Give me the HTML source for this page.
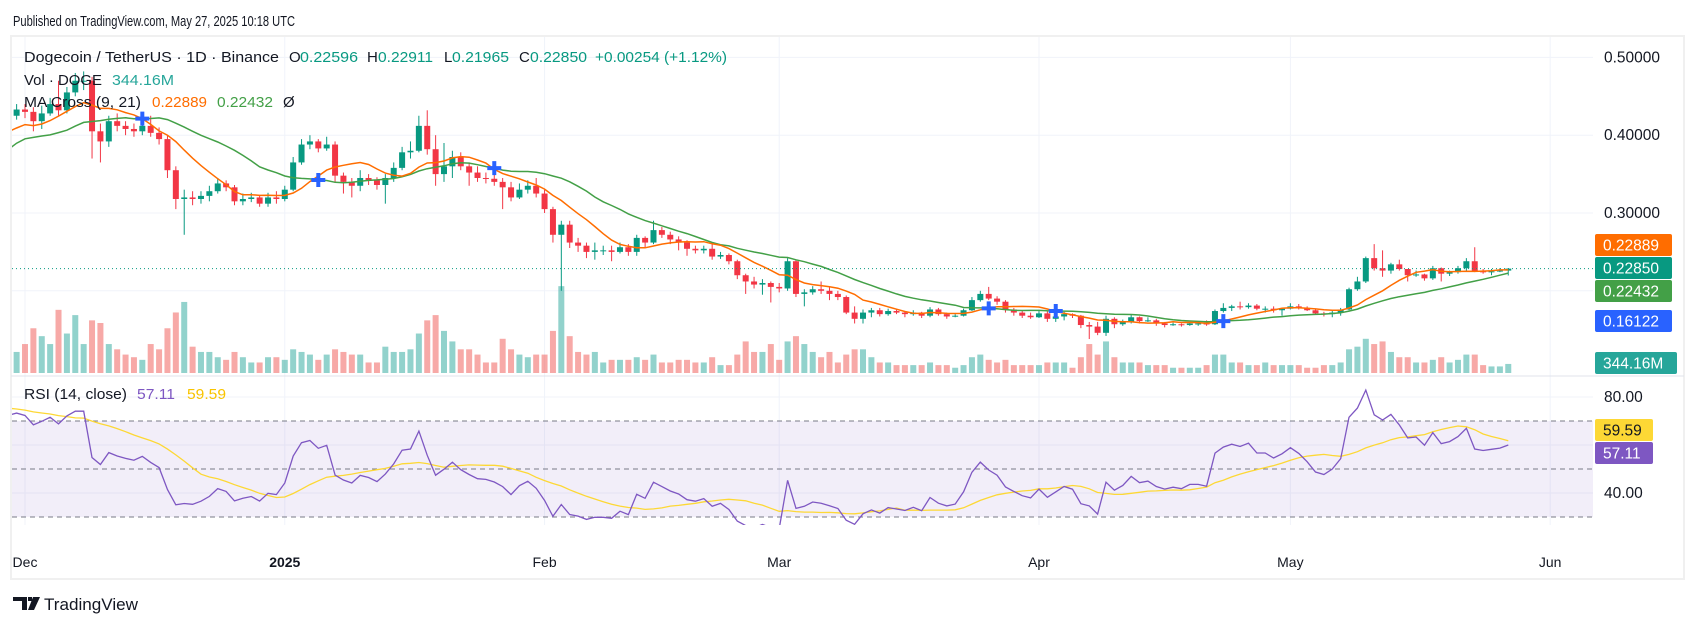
<!DOCTYPE html>
<html><head><meta charset="utf-8"><title>DOGEUSDT chart</title>
<style>
html,body{margin:0;padding:0;background:#fff;}
svg{display:block;font-family:"Liberation Sans",sans-serif;}
</style></head>
<body>
<svg id="chart" width="1696" height="627" viewBox="0 0 1696 627" xmlns="http://www.w3.org/2000/svg">
  <defs>
    <clipPath id="plotClip"><rect x="12" y="37" width="1581" height="488"/></clipPath>
  </defs>
  <text x="13" y="26" font-size="15" fill="#131722" textLength="282" lengthAdjust="spacingAndGlyphs">Published on TradingView.com, May 27, 2025 10:18 UTC</text>
  <rect x="11" y="36" width="1673" height="543" fill="none" stroke="#f0f0f0" stroke-width="2"/>
  <g id="grid"></g>
  <rect x="12" y="421" width="1581" height="96" fill="#7e57c2" fill-opacity="0.1"/>
  <g id="rsiLevels"></g>
  <line x1="11" y1="376" x2="1684" y2="376" stroke="#e0e3eb" stroke-width="1"/>
  <g id="plot" clip-path="url(#plotClip)"></g>
  <g id="axis"></g>
  <g id="timeAxis"></g>

  <g font-size="15">
    <text x="24" y="62" fill="#131722" textLength="255" lengthAdjust="spacingAndGlyphs">Dogecoin / TetherUS · 1D · Binance</text>
    <text x="289" y="62" fill="#131722">O</text>
    <text x="300" y="62" fill="#089981" textLength="58" lengthAdjust="spacingAndGlyphs">0.22596</text>
    <text x="367" y="62" fill="#131722">H</text>
    <text x="378" y="62" fill="#089981" textLength="55" lengthAdjust="spacingAndGlyphs">0.22911</text>
    <text x="444" y="62" fill="#131722">L</text>
    <text x="452" y="62" fill="#089981" textLength="57" lengthAdjust="spacingAndGlyphs">0.21965</text>
    <text x="519" y="62" fill="#131722">C</text>
    <text x="530" y="62" fill="#089981" textLength="57" lengthAdjust="spacingAndGlyphs">0.22850</text>
    <text x="595" y="62" fill="#089981" textLength="132" lengthAdjust="spacingAndGlyphs">+0.00254 (+1.12%)</text>
    <text x="24" y="85" fill="#131722" textLength="78" lengthAdjust="spacingAndGlyphs">Vol · DOGE</text>
    <text x="112" y="85" fill="#26a69a" textLength="62" lengthAdjust="spacingAndGlyphs">344.16M</text>
    <text x="24" y="107" fill="#131722" textLength="117" lengthAdjust="spacingAndGlyphs">MA Cross (9, 21)</text>
    <text x="152" y="107" fill="#ff6d00" textLength="55" lengthAdjust="spacingAndGlyphs">0.22889</text>
    <text x="217" y="107" fill="#43a047" textLength="56" lengthAdjust="spacingAndGlyphs">0.22432</text>
    <text x="283" y="107" fill="#131722">Ø</text>
    <text x="24" y="399" fill="#131722" textLength="103" lengthAdjust="spacingAndGlyphs">RSI (14, close)</text>
    <text x="137" y="399" fill="#7e57c2" textLength="38" lengthAdjust="spacingAndGlyphs">57.11</text>
    <text x="187" y="399" fill="#f9c400" textLength="39" lengthAdjust="spacingAndGlyphs">59.59</text>
  </g>

  <g>
    <path d="M13 597h14v13h-5v-9h-9z M28 597h4v4h-4z M33 597h7l-6 13h-6z" fill="#131722"/>
    <text x="44" y="610" font-size="17" fill="#131722" textLength="94" lengthAdjust="spacingAndGlyphs">TradingView</text>
  </g>
</svg>
<script>
// ---- data ----
const preCloses = [0.165,0.160,0.170,0.170,0.170,0.200,0.210,0.220,0.260,0.310,0.380,0.390,0.410,0.370,0.390,0.360,0.370,0.380,0.370,0.380,0.390,0.390,0.430,0.410,0.400,0.380,0.400,0.415];
const closes = [0.425,0.433,
0.430,0.418,0.428,0.440,0.432,0.455,0.470,0.470,0.405,0.392,0.418,0.412,0.408,0.405,0.412,0.403,0.395,0.355,0.318,0.320,0.318,0.322,0.328,0.338,0.333,0.315,0.318,0.320,0.312,0.320,0.318,
0.330,0.365,0.388,0.392,0.383,0.388,0.348,0.340,0.335,0.345,0.342,0.336,0.345,0.358,0.378,0.380,0.412,0.382,0.350,0.360,0.372,0.360,0.352,0.345,0.344,0.340,0.333,0.320,0.330,0.335,0.325,
0.305,0.272,0.285,0.262,0.258,0.250,0.252,0.252,0.250,0.256,0.250,0.268,0.262,0.278,0.272,0.266,0.262,0.254,0.252,0.254,0.244,0.246,0.238,0.220,0.212,0.208,0.210,0.205,
0.203,0.238,0.196,0.198,0.202,0.200,0.196,0.192,0.172,0.164,0.172,0.175,0.170,0.174,0.172,0.170,0.172,0.168,0.176,0.170,0.167,0.168,0.175,0.188,0.196,0.190,0.186,0.176,0.172,0.168,0.166,
0.171,0.164,0.167,0.170,0.168,0.156,0.154,0.146,0.164,0.157,0.160,0.166,0.161,0.162,0.158,0.156,0.157,0.156,0.158,0.158,0.157,0.174,0.178,0.180,0.179,0.181,0.177,0.177,0.175,0.177,
0.180,0.178,0.175,0.171,0.170,0.172,0.176,0.202,0.212,0.242,0.229,0.226,0.234,0.228,0.220,0.221,0.216,0.229,0.222,0.224,0.229,0.238,0.225,0.224,0.225,0.226,0.2285];
const highs = [0.432,0.440,
0.440,0.436,0.438,0.448,0.470,0.462,0.480,0.482,0.475,0.415,0.425,0.428,0.418,0.415,0.418,0.425,0.410,0.400,0.360,0.330,0.328,0.328,0.335,0.345,0.342,0.336,0.325,0.326,0.322,0.326,0.328,
0.335,0.372,0.395,0.400,0.395,0.398,0.392,0.352,0.345,0.355,0.350,0.346,0.350,0.365,0.385,0.392,0.425,0.432,0.400,0.390,0.380,0.378,0.365,0.360,0.352,0.350,0.345,0.340,0.338,0.342,0.345,
0.330,0.308,0.290,0.290,0.268,0.262,0.262,0.258,0.258,0.262,0.260,0.272,0.270,0.290,0.282,0.276,0.270,0.265,0.258,0.258,0.262,0.250,0.248,0.240,0.222,0.218,0.215,0.212,
0.210,0.242,0.240,0.202,0.206,0.212,0.205,0.200,0.194,0.180,0.176,0.178,0.178,0.177,0.176,0.174,0.175,0.173,0.179,0.178,0.172,0.170,0.177,0.192,0.200,0.205,0.193,0.188,0.178,0.174,0.172,
0.174,0.174,0.170,0.173,0.171,0.169,0.160,0.160,0.168,0.166,0.163,0.169,0.167,0.166,0.164,0.160,0.159,0.158,0.160,0.159,0.162,0.176,0.184,0.182,0.186,0.184,0.183,0.180,0.180,0.178,
0.184,0.183,0.180,0.176,0.173,0.174,0.178,0.204,0.218,0.244,0.260,0.252,0.236,0.240,0.228,0.226,0.222,0.232,0.230,0.226,0.232,0.242,0.256,0.228,0.228,0.229,0.22911];
const lows = [0.410,0.420,
0.422,0.405,0.408,0.425,0.425,0.428,0.450,0.458,0.370,0.365,0.385,0.405,0.400,0.398,0.400,0.398,0.388,0.345,0.305,0.272,0.310,0.312,0.315,0.325,0.328,0.310,0.310,0.314,0.308,0.308,0.312,
0.315,0.328,0.362,0.382,0.378,0.380,0.340,0.325,0.320,0.328,0.336,0.330,0.312,0.340,0.355,0.370,0.378,0.375,0.335,0.340,0.345,0.355,0.335,0.340,0.338,0.335,0.305,0.315,0.318,0.325,0.320,
0.300,0.262,0.200,0.255,0.250,0.242,0.240,0.246,0.238,0.248,0.245,0.245,0.256,0.260,0.268,0.260,0.252,0.245,0.248,0.248,0.240,0.241,0.234,0.215,0.196,0.203,0.195,0.185,
0.198,0.200,0.192,0.180,0.195,0.196,0.188,0.188,0.170,0.158,0.158,0.166,0.167,0.168,0.170,0.166,0.168,0.165,0.166,0.168,0.164,0.166,0.167,0.174,0.186,0.188,0.182,0.172,0.168,0.165,0.164,
0.165,0.160,0.160,0.162,0.165,0.152,0.138,0.143,0.142,0.152,0.155,0.158,0.158,0.160,0.155,0.153,0.155,0.154,0.155,0.155,0.155,0.156,0.172,0.174,0.176,0.177,0.175,0.172,0.172,0.168,
0.176,0.176,0.174,0.170,0.167,0.166,0.168,0.175,0.200,0.210,0.226,0.218,0.222,0.226,0.212,0.218,0.213,0.214,0.212,0.219,0.222,0.226,0.224,0.222,0.220,0.224,0.21965];
const volumes = [900,800,
1100,1700,1400,1100,2400,1500,2200,1100,2000,1900,1100,900,700,600,500,1100,900,1700,2300,2700,1000,800,800,600,500,800,600,400,400,600,600,
500,900,800,700,500,700,900,800,700,700,400,400,1000,800,800,900,1500,2000,2200,1600,1200,900,900,700,400,400,1300,900,700,600,700,
700,1600,3300,1400,800,700,800,400,500,500,500,600,500,700,400,400,500,500,400,400,600,300,300,700,1200,800,800,1100,
500,1200,1400,1100,800,600,800,400,700,900,900,600,400,400,300,300,300,300,400,300,300,200,300,600,700,500,400,500,300,300,300,
300,400,400,400,200,600,1100,700,1200,600,400,400,400,300,300,300,200,200,200,200,300,700,700,400,400,300,300,400,300,300,
300,300,200,200,300,300,400,900,1000,1300,1100,1200,800,600,600,400,400,500,600,400,500,700,700,300,250,250,344.16];
const firstOpen = 0.415;
const lastOpen = 0.22596;
const priceTicks = [0.5,0.4,0.3,0.2];
const priceTickLabels = ["0.50000","0.40000","0.30000",""];
const rsiTicks = [80,60,40];
const rsiTickLabels = ["80.00","","40.00"];
const rsiLevels = [70,50,30];
const monthLabels = ["Dec","2025","Feb","Mar","Apr","May","Jun"];
const monthDayOffsets = [0,31,62,90,121,151,182]; // days from Dec 1

// ---- scales ----
const NS = "http://www.w3.org/2000/svg";
const DAY0 = -2; // first drawn bar = Nov 29
const xOfDay = d => 25 + d * 8.38;
const xOf = i => xOfDay(i + DAY0);
const yP = p => 213 + (0.3 - p) * 778;
const yR = r => 397 + (80 - r) * 2.4;
const yV = v => 373 - v / 38;
function mk(tag, attrs, parent){const e=document.createElementNS(NS,tag);for(const k in attrs)e.setAttribute(k,attrs[k]);parent.appendChild(e);return e;}

const grid = document.getElementById('grid');
const plot = document.getElementById('plot');
const axis = document.getElementById('axis');
const tAxis = document.getElementById('timeAxis');
const rsiLv = document.getElementById('rsiLevels');

// grid
monthDayOffsets.forEach((d,k)=>{
  const x=xOfDay(d);
  if(x<1593){
    const l=mk('line',{x1:x,y1:37,x2:x,y2:525,stroke:'#f0f3fa','stroke-width':1},grid);
    
    
  }
  const t=mk('text',{x:x,y:567,'font-size':14,'text-anchor':'middle',fill:'#131722','font-weight':k===1?'bold':'normal'},tAxis);
  t.textContent=monthLabels[k];
  
  
});
priceTicks.forEach((p,k)=>{
  const y=yP(p);
  const l=mk('line',{x1:12,y1:y,x2:1593,y2:y,stroke:'#f0f3fa','stroke-width':1},grid);
  
  
  if(priceTickLabels[k]){
    const t=mk('text',{x:1604,y:y+5,'font-size':15.5,fill:'#131722'},axis);
    t.textContent=priceTickLabels[k];
    
    
  }
});
rsiTicks.forEach((r,k)=>{
  const y=yR(r);
  const l=mk('line',{x1:12,y1:y,x2:1593,y2:y,stroke:'#f0f3fa','stroke-width':1},grid);
  
  
  if(rsiTickLabels[k]){
    const t=mk('text',{x:1604,y:y+5,'font-size':15.5,fill:'#131722'},axis);
    t.textContent=rsiTickLabels[k];
    
    
  }
});
rsiLevels.forEach(r=>{
  const y=yR(r);
  const l=mk('line',{x1:12,y1:y,x2:1593,y2:y,stroke:'#787b86','stroke-width':1,'stroke-dasharray':'5,4'},rsiLv);
  
  
});

// volume
const opens = closes.map((c,i)=> i===0?firstOpen:(i===closes.length-1?lastOpen:closes[i-1]));
volumes.forEach((v,i)=>{
  const up = closes[i]>=opens[i];
  const y=yV(v);
  const r=mk('rect',{x:xOf(i)-3,y:y,width:6,height:373-y,fill:up?'#26a69a':'#ef5350','fill-opacity':0.5},plot);
  
  
});

// candles
closes.forEach((c,i)=>{
  const o=opens[i], up=c>=o, col=up?'#089981':'#f23645', x=xOf(i);
  const w=mk('line',{x1:x,y1:yP(highs[i]),x2:x,y2:yP(lows[i]),stroke:col,'stroke-width':1},plot);
  
  
  const top=yP(Math.max(o,c)), bot=yP(Math.min(o,c));
  const b=mk('rect',{x:x-3,y:top,width:6,height:Math.max(1,bot-top),fill:col},plot);
  
  
});

// indicators
const all = preCloses.concat(closes);
const P = preCloses.length;
function sma(arr,n,i){let s=0;for(let k=i-n+1;k<=i;k++)s+=arr[k];return s/n;}
const ma9=[], ma21=[];
for(let i=0;i<closes.length;i++){ma9.push(sma(all,9,i+P));ma21.push(sma(all,21,i+P));}
function linePath(vals,yf){return vals.map((v,i)=>(i?'L':'M')+xOf(i).toFixed(1)+' '+yf(v).toFixed(1)).join(' ');}
const p21=mk('path',{d:linePath(ma21,yP),fill:'none',stroke:'#43a047','stroke-width':1.5},plot);


const p9=mk('path',{d:linePath(ma9,yP),fill:'none',stroke:'#ff6d00','stroke-width':1.5},plot);


for(let i=1;i<closes.length;i++){
  const a=ma9[i-1]-ma21[i-1], b=ma9[i]-ma21[i];
  if((a<0&&b>=0)||(a>0&&b<=0)){
    const x=xOf(i), y=yP(ma21[i]);
    const c=mk('path',{d:`M${x-7} ${y-2}h5v-5h4v5h5v4h-5v5h-4v-5h-5z`,fill:'#2962ff'},plot);
    
    
  }
}
// last price line
const lp=mk('line',{x1:12,y1:yP(closes[closes.length-1]),x2:1593,y2:yP(closes[closes.length-1]),stroke:'#089981','stroke-width':1,'stroke-dasharray':'1,3'},plot);



// RSI (Wilder)
const rsi=[]; let ag=0, al=0;
for(let i=1;i<all.length;i++){
  const ch=all[i]-all[i-1], g=Math.max(ch,0), l=Math.max(-ch,0);
  if(i<=14){ag+=g/14;al+=l/14;} else {ag=(ag*13+g)/14;al=(al*13+l)/14;}
  rsi[i]= al===0?100:100-100/(1+ag/al);
}
const rsiVis=closes.map((c,i)=>rsi[i+P]);
const rsiMA=closes.map((c,i)=>{let s=0;for(let k=i+P-13;k<=i+P;k++)s+=rsi[k];return s/14;});
const rm=mk('path',{d:linePath(rsiMA,yR),fill:'none',stroke:'#fdd835','stroke-width':1.3},plot);


const rl=mk('path',{d:linePath(rsiVis,yR),fill:'none',stroke:'#7e57c2','stroke-width':1.3},plot);



// axis value tags
const tags=[["0.22889","#ff6d00",245,77,"ma9-price-tag"],["0.22850","#089981",268,77,"last-price-tag"],["0.22432","#43a047",291,77,"ma21-price-tag"],["0.16122","#2962ff",321,77,"ma-cross-price-tag"],["344.16M","#26a69a",363,82,"volume-tag"],["59.59","#fdd835",430,58,"rsi-ma-tag"],["57.11","#7e57c2",453,58,"rsi-tag"]];
tags.forEach(t=>{
  const r=mk('rect',{x:1595,y:t[2]-11,width:t[3],height:22,rx:2,fill:t[1]},axis);
  
  
  const tx=mk('text',{x:1603,y:t[2]+5.5,'font-size':15.5,fill:t[4]==='rsi-ma-tag'?'#131722':'#ffffff'},axis);
  tx.textContent=t[0];
  
  
});
</script>
</body></html>
